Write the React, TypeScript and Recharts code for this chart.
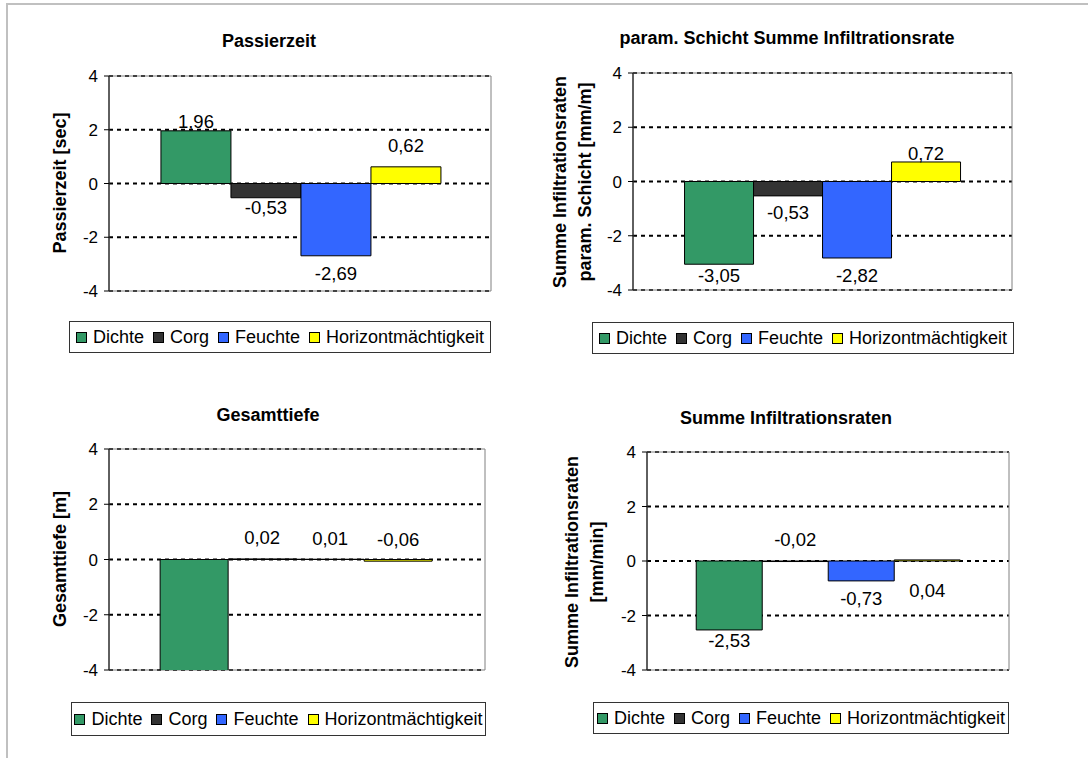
import {
  BarChart,
  Bar,
  XAxis,
  YAxis,
  CartesianGrid,
  ReferenceArea,
  LabelList,
} from "recharts";

const FONT = "'Liberation Sans', Arial, sans-serif";

const categories = ["Dichte", "Corg", "Feuchte", "Horizontmächtigkeit"];
const seriesKeys = ["dichte", "corg", "feuchte", "horizont"];
const colors = ["#339966", "#333333", "#3366FF", "#FFFF00"];
const yTicks = [-4, -2, 0, 2, 4];

// values per chart, in the order of categories
const passierzeit = [1.96, -0.53, -2.69, 0.62];
const paramSchicht = [-3.05, -0.53, -2.82, 0.72];
const gesamttiefe = [-4.1, 0.02, 0.01, -0.06];
const summeInfiltration = [-2.53, -0.02, -0.73, 0.04];

// label offsets from the bar end (px, negative = up)
const passierzeitDy = [-9, 10, 18, -21];
const paramSchichtDy = [11, 17, 18, -8];
const gesamttiefeDy = [0, -21, -21, -22];
const summeInfiltrationDy = [11, -22, 18, 31];

const fmt = (v: number) => v.toFixed(2).replace(".", ",");

interface Box {
  plotX: number;
  plotY: number;
  plotW: number;
  plotH: number;
  titleX: number;
  titleY: number;
  labelX: number;
  labelY: number;
  legendX: number;
  legendY: number;
  legendW: number;
  legendH: number;
}

interface PanelProps {
  title: string;
  yLabel: string[];
  values: number[];
  labelDy: number[];
  box: Box;
}

const makeLabel = (dy: number) => (props: any) => {
  const { x, y, width, height, value } = props;
  const v = Number(value);
  if (Math.abs(v) > 4) return null;
  const top = Math.min(y, y + height);
  const bottom = Math.max(y, y + height);
  const end = v >= 0 ? top : bottom;
  return (
    <text
      x={x + width / 2}
      y={end + dy}
      textAnchor="middle"
      dominantBaseline="central"
      fontSize={18.5}
      fontFamily={FONT}
      fill="#000"
    >
      {fmt(v)}
    </text>
  );
};

const Panel = ({ title, yLabel, values, labelDy, box }: PanelProps) => {
  const row: Record<string, any> = { name: "" };
  seriesKeys.forEach((k, i) => (row[k] = values[i]));
  const data = [row];

  return (
    <>
      <div
        style={{
          position: "absolute",
          left: box.titleX,
          top: box.titleY,
          transform: "translate(-50%, -50%)",
          fontFamily: FONT,
          fontWeight: "bold",
          fontSize: 18,
          whiteSpace: "nowrap",
        }}
      >
        {title}
      </div>

      <div
        style={{
          position: "absolute",
          left: box.labelX,
          top: box.labelY,
          transform: "translate(-50%, -50%) rotate(-90deg)",
          fontFamily: FONT,
          fontWeight: "bold",
          fontSize: 18,
          lineHeight: "25px",
          textAlign: "center",
          whiteSpace: "nowrap",
        }}
      >
        {yLabel.map((l) => (
          <div key={l}>{l}</div>
        ))}
      </div>

      <div style={{ position: "absolute", left: box.plotX - 60, top: box.plotY - 10 }}>
        <BarChart
          width={box.plotW + 70}
          height={box.plotH + 20}
          data={data}
          margin={{ top: 10, right: 10, bottom: 10, left: 0 }}
          barCategoryGap="13.6%"
          barGap={0}
        >
          <ReferenceArea y1={-4} y2={4} fill="none" stroke="#808080" strokeWidth={1} />
          <CartesianGrid
            vertical={false}
            stroke="#000"
            strokeWidth={2}
            strokeDasharray="4 4"
          />
          <XAxis dataKey="name" hide />
          <YAxis
            width={60}
            domain={[-4, 4]}
            ticks={yTicks}
            allowDataOverflow
            tick={{ fill: "#000", fontSize: 17, fontFamily: FONT }}
            axisLine={{ stroke: "#000" }}
            tickLine={{ stroke: "#000" }}
            tickSize={5}
            tickMargin={6}
          />
          {seriesKeys.map((k, i) => (
            <Bar
              key={k}
              dataKey={k}
              name={categories[i]}
              fill={colors[i]}
              stroke="#000"
              strokeWidth={1}
              isAnimationActive={false}
            >
              <LabelList dataKey={k} content={makeLabel(labelDy[i])} />
            </Bar>
          ))}
        </BarChart>
      </div>

      <div
        style={{
          position: "absolute",
          left: box.legendX,
          top: box.legendY,
          width: box.legendW,
          height: box.legendH,
          boxSizing: "border-box",
          border: "1px solid #333",
          display: "flex",
          alignItems: "center",
          justifyContent: "center",
          gap: 9,
          fontFamily: FONT,
          fontSize: 18,
          whiteSpace: "nowrap",
        }}
      >
        {categories.map((c, i) => (
          <div key={c} style={{ display: "flex", alignItems: "center", gap: 6 }}>
            <span
              style={{
                display: "inline-block",
                width: 9,
                height: 9,
                background: colors[i],
                border: "1px solid #000",
              }}
            />
            <span>{c}</span>
          </div>
        ))}
      </div>
    </>
  );
};

export default function App() {
  return (
    <div
      style={{
        position: "absolute",
        left: 0,
        top: 0,
        width: 1088,
        height: 758,
        background: "#fff",
        overflow: "hidden",
      }}
    >
      <div
        style={{
          position: "absolute",
          left: 6,
          top: 3,
          width: 1100,
          height: 800,
          borderTop: "2px solid #c0c0c0",
          borderLeft: "2px solid #c0c0c0",
        }}
      />
      <Panel
        title="Passierzeit"
        yLabel={["Passierzeit [sec]"]}
        values={passierzeit}
        labelDy={passierzeitDy}
        box={{
          plotX: 109, plotY: 76, plotW: 382, plotH: 215,
          titleX: 269, titleY: 41,
          labelX: 60, labelY: 183,
          legendX: 69, legendY: 321, legendW: 422, legendH: 32,
        }}
      />
      <Panel
        title="param. Schicht Summe Infiltrationsrate"
        yLabel={["Summe Infiltrationsraten", "param. Schicht [mm/m]"]}
        values={paramSchicht}
        labelDy={paramSchichtDy}
        box={{
          plotX: 633, plotY: 73, plotW: 379, plotH: 217,
          titleX: 787, titleY: 38,
          labelX: 573, labelY: 182,
          legendX: 592, legendY: 322, legendW: 422, legendH: 32,
        }}
      />
      <Panel
        title="Gesamttiefe"
        yLabel={["Gesamttiefe [m]"]}
        values={gesamttiefe}
        labelDy={gesamttiefeDy}
        box={{
          plotX: 109, plotY: 449, plotW: 376, plotH: 221,
          titleX: 268, titleY: 415,
          labelX: 60, labelY: 559,
          legendX: 71, legendY: 702, legendW: 415, legendH: 34,
        }}
      />
      <Panel
        title="Summe Infiltrationsraten"
        yLabel={["Summe Infiltrationsraten", "[mm/min]"]}
        values={summeInfiltration}
        labelDy={summeInfiltrationDy}
        box={{
          plotX: 647, plotY: 452, plotW: 362, plotH: 218,
          titleX: 786, titleY: 418,
          labelX: 585, labelY: 562,
          legendX: 593, legendY: 702, legendW: 416, legendH: 32,
        }}
      />
    </div>
  );
}
